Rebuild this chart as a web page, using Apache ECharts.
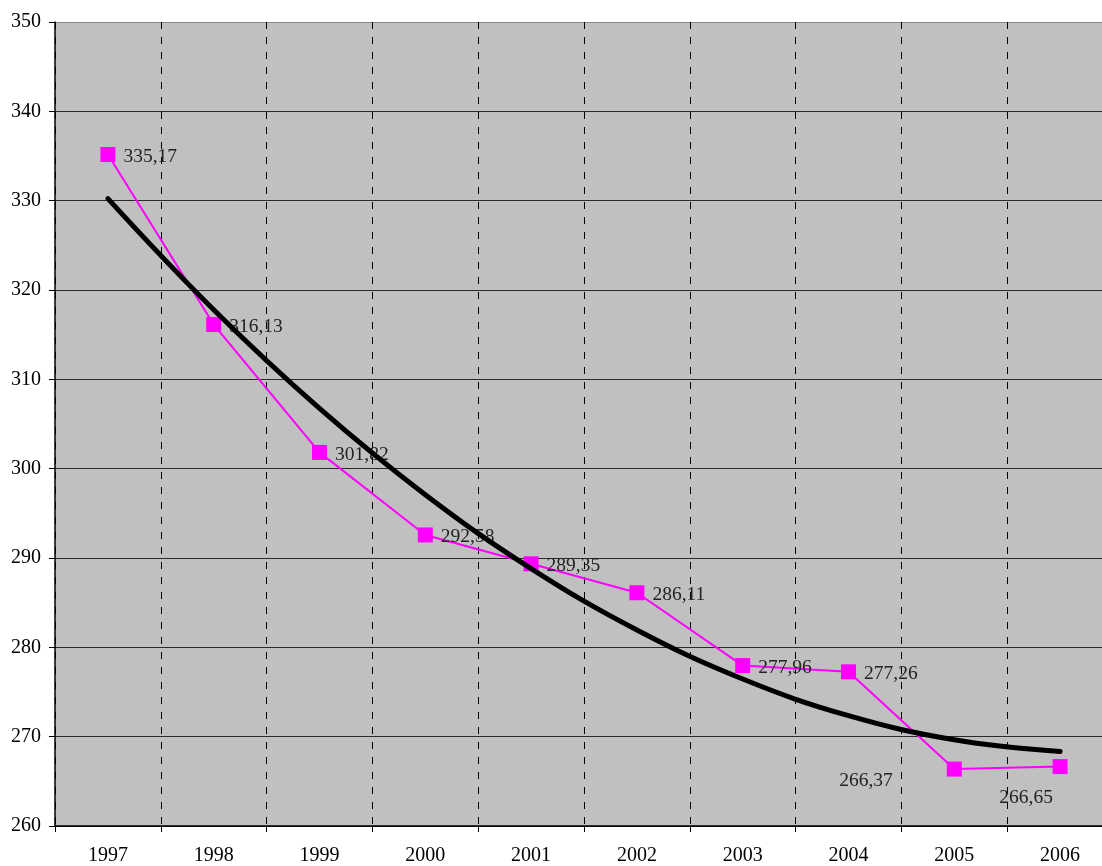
<!DOCTYPE html>
<html>
<head>
<meta charset="utf-8">
<script src="https://cdn.jsdelivr.net/npm/echarts@6/dist/echarts.min.js"></script>
<style>
html,body{margin:0;padding:0;background:#fff;}
#chart{width:1102px;height:866px;}
</style>
</head>
<body>
<div id="chart"></div>
<script>
var years = ['1997','1998','1999','2000','2001','2002','2003','2004','2005','2006'];
var values = [335.17, 316.13, 301.82, 292.58, 289.35, 286.11, 277.96, 277.26, 266.37, 266.65];
var trend = [330.23, 317.79, 306.75, 297.09, 288.82, 281.94, 276.45, 272.35, 269.65, 268.33];
var yTicks = [260, 270, 280, 290, 300, 310, 320, 330, 340, 350];

var FONT = 'Liberation Serif';
var chart = echarts.init(document.getElementById('chart'), null, {renderer: 'canvas'});

var labelData = values.map(function (v, i) {
  var item = {value: v};
  if (i === 8) {
    item.label = {position: 'left', offset: [-46, 12]};
  } else if (i === 9) {
    item.label = {position: 'bottom', offset: [-34, 6]};
  }
  return item;
});

var gridColors = yTicks.map(function (t, i) { return i === yTicks.length - 1 ? '#8a8a8a' : '#2a2a2a'; });

chart.setOption({
  animation: false,
  backgroundColor: '#ffffff',
  grid: {
    left: 55,
    top: 22,
    width: 1058,
    height: 804,
    outerBoundsMode: 'none',
    containLabel: false,
    show: true,
    backgroundColor: '#c0c0c0',
    borderWidth: 0
  },
  xAxis: {
    type: 'category',
    data: years,
    boundaryGap: true,
    axisLine: {show: true, lineStyle: {color: '#000', width: 1.5}},
    axisTick: {show: true, length: 6, lineStyle: {color: '#000'}},
    axisLabel: {color: '#000', fontFamily: FONT, fontSize: 20, margin: 20},
    splitLine: {show: true, lineStyle: {color: '#000', type: [7, 8], width: 1}}
  },
  yAxis: {
    type: 'value',
    min: 260,
    max: 350,
    interval: 10,
    axisLine: {show: true, lineStyle: {color: '#000', width: 1.5}},
    axisTick: {show: true, length: 6, lineStyle: {color: '#000'}},
    axisLabel: {color: '#000', fontFamily: FONT, fontSize: 20, margin: 14},
    splitLine: {show: true, lineStyle: {color: gridColors, width: 1}}
  },
  series: [
    {
      name: 'data',
      type: 'line',
      data: labelData,
      symbol: 'rect',
      symbolSize: 15,
      itemStyle: {color: '#ff00ff'},
      lineStyle: {color: '#ff00ff', width: 2},
      z: 3,
      label: {
        show: true,
        position: 'right',
        distance: 8,
        offset: [0, 2],
        color: '#222',
        fontFamily: FONT,
        fontSize: 19.5,
        formatter: function (p) { return p.value.toFixed(2).replace('.', ','); }
      }
    },
    {
      name: 'trend',
      type: 'line',
      data: trend,
      smooth: 0.4,
      symbol: 'none',
      lineStyle: {color: '#000', width: 5, cap: 'round'},
      z: 4,
      silent: true
    }
  ]
});
</script>
</body>
</html>
